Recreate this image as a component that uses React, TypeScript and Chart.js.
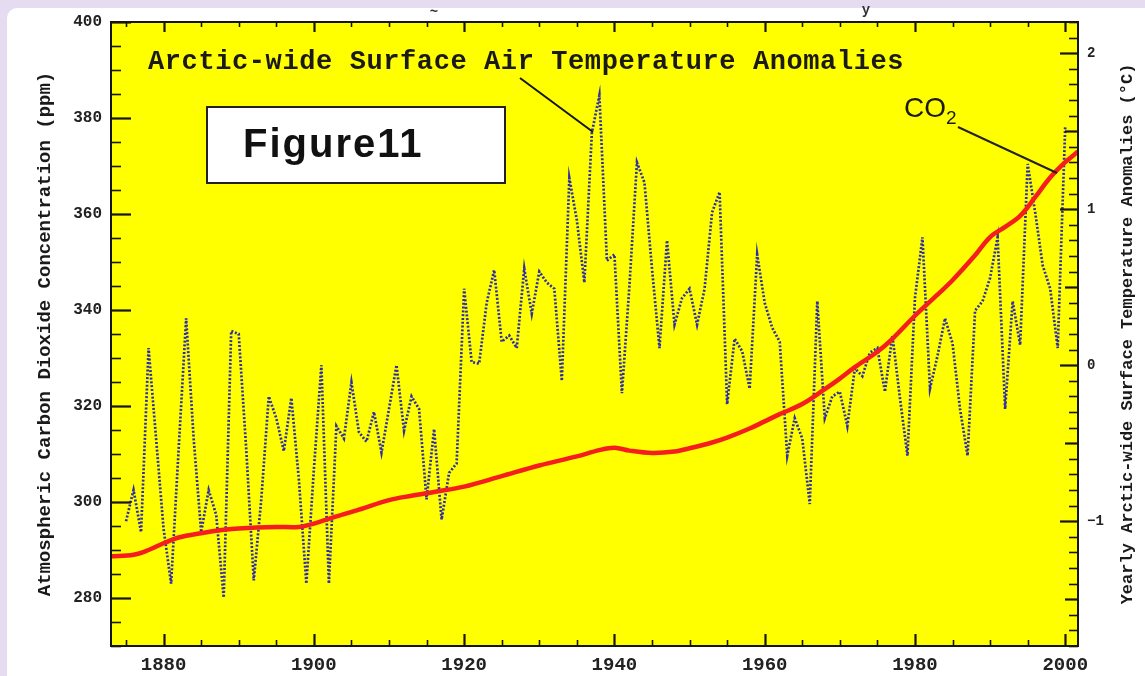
import React, { useEffect, useRef } from "react";
import { Chart, registerables } from "chart.js";

Chart.register(...registerables);

// ---------- data ----------
const X_MIN = 1873;
const X_MAX = 2001.7;
const CO2_MIN = 270;
const CO2_MAX = 400;
const TEMP_MIN = -1.8;
const TEMP_MAX = 2.2;

const xTickLabels = [1880, 1900, 1920, 1940, 1960, 1980, 2000];
const co2TickLabels = [280, 300, 320, 340, 360, 380, 400];
const tempTickLabels = [-1, 0, 1, 2];

const co2Years = [
  1873, 1876, 1878, 1880, 1882, 1885, 1888, 1890, 1895, 1898, 1900, 1903, 1906,
  1910, 1913, 1916, 1920, 1925, 1930, 1935, 1938, 1940, 1942, 1945, 1948, 1950,
  1953, 1955, 1958, 1960, 1962, 1965, 1968, 1970, 1972, 1975, 1977, 1980, 1983,
  1985, 1988, 1990, 1992, 1994, 1996, 1998, 2000, 2001.7,
];
const co2Values = [
  288.7, 289.0, 290.0, 291.4, 292.6, 293.5, 294.2, 294.5, 294.8, 294.8, 295.5,
  297.0, 298.4, 300.4, 301.3, 302.1, 303.2, 305.4, 307.6, 309.5, 310.8, 311.3,
  310.7, 310.2, 310.5, 311.2, 312.4, 313.4, 315.3, 316.8, 318.3, 320.4, 323.5,
  325.7, 328.1, 331.3, 334.0, 338.8, 343.2, 346.2, 351.4, 355.2, 357.3, 359.6,
  363.5, 367.6, 370.8, 373.0,
];

const TEMP_FIRST_YEAR = 1875;
const tempValues = [
  -1.0, -0.8, -1.07, 0.11, -0.47, -1.05, -1.4, -0.54, 0.3, -0.47, // 1875-1884
  -1.07, -0.8, -0.96, -1.49, 0.22, 0.2, -0.54, -1.38, -0.86, -0.2, // 1885-1894
  -0.34, -0.55, -0.21, -0.73, -1.4, -0.67, 0.0, -1.4, -0.39, -0.47, // 1895-1904
  -0.11, -0.43, -0.49, -0.3, -0.56, -0.28, 0.0, -0.42, -0.2, -0.28, // 1905-1914
  -0.86, -0.41, -0.99, -0.69, -0.63, 0.49, 0.02, 0.01, 0.4, 0.61, // 1915-1924
  0.15, 0.19, 0.11, 0.62, 0.33, 0.6, 0.53, 0.49, -0.1, 1.2, // 1925-1934
  0.93, 0.53, 1.49, 1.73, 0.67, 0.71, -0.18, 0.51, 1.3, 1.17, // 1935-1944
  0.62, 0.11, 0.8, 0.26, 0.43, 0.49, 0.26, 0.49, 0.98, 1.11, // 1945-1954
  -0.25, 0.17, 0.09, -0.15, 0.71, 0.4, 0.24, 0.15, -0.58, -0.34, // 1955-1964
  -0.47, -0.89, 0.41, -0.34, -0.2, -0.17, -0.39, -0.02, -0.07, 0.08, // 1965-1974
  0.11, -0.17, 0.19, -0.21, -0.58, 0.43, 0.82, -0.15, 0.06, 0.3, // 1975-1984
  0.14, -0.28, -0.58, 0.35, 0.41, 0.56, 0.82, -0.28, 0.41, 0.13, // 1985-1994
  1.29, 0.98, 0.64, 0.49, 0.11, 1.53, // 1995-2000
];

const plotTitle = "Arctic-wide Surface Air Temperature Anomalies";
const leftTitle = "Atmospheric Carbon Dioxide Concentration (ppm)";
const rightTitle = "Yearly Arctic-wide Surface Temperature Anomalies (°C)";
const figureLabel = "Figure11";

// ---------- drawing helpers ----------
const MONO = '"Liberation Mono", "DejaVu Sans Mono", monospace';
const INK = "#222222";

function seg(ctx: CanvasRenderingContext2D, x1: number, y1: number, x2: number, y2: number) {
  ctx.beginPath();
  ctx.moveTo(x1, y1);
  ctx.lineTo(x2, y2);
  ctx.stroke();
}

function fixedTicks(values: number[]) {
  return (s: any) => {
    s.ticks = values.map((v) => ({ value: v }));
  };
}

const decorPlugin = {
  id: "decor",
  beforeDraw(chart: any) {
    const { ctx, chartArea } = chart;
    const { left, top, right, bottom } = chartArea;
    ctx.save();
    ctx.fillStyle = "#ffff00";
    ctx.fillRect(left, top, right - left, bottom - top);
    // fragments of the cropped heading above the frame
    ctx.fillStyle = "#333";
    ctx.font = `bold 14px ${MONO}`;
    ctx.textAlign = "center";
    ctx.textBaseline = "middle";
    ctx.fillText("~", 434, 12);
    ctx.fillText("y", 866, 10);
    ctx.restore();
  },
  afterDatasetsDraw(chart: any) {
    const { ctx, chartArea, scales } = chart;
    const { left, top, right, bottom } = chartArea;
    const xs = scales.x;
    const ys = scales.y;
    const y2 = scales.y2;
    ctx.save();
    ctx.strokeStyle = "#151515";
    ctx.lineCap = "butt";

    // left axis ticks (inward)
    for (let v = CO2_MIN; v <= CO2_MAX; v += 5) {
      const p = Math.round(ys.getPixelForValue(v)) + 0.5;
      const major = v % 20 === 0;
      ctx.lineWidth = major ? 2.2 : 1.6;
      seg(ctx, left, p, left + (major ? 20 : 10), p);
    }
    // right axis ticks (inward)
    for (let k = Math.round(TEMP_MIN * 10); k <= Math.round(TEMP_MAX * 10); k++) {
      const p = Math.round(y2.getPixelForValue(k / 10)) + 0.5;
      const len = k % 10 === 0 ? 18 : k % 5 === 0 ? 13 : 9;
      ctx.lineWidth = k % 5 === 0 ? 2.2 : 1.6;
      seg(ctx, right, p, right - len, p);
    }
    // bottom / top ticks
    for (let yr = 1875; yr <= 2000; yr += 5) {
      const p = Math.round(xs.getPixelForValue(yr)) + 0.5;
      const major = yr % 20 === 0;
      ctx.lineWidth = major ? 2.2 : 1.6;
      seg(ctx, p, bottom, p, bottom - (major ? 12 : 6));
      seg(ctx, p, top, p, top + (major ? 10 : 5));
    }
    // frame
    ctx.lineWidth = 2;
    ctx.strokeRect(left, top, right - left, bottom - top);

    // in-plot title + leader
    ctx.fillStyle = "#1a1a1a";
    ctx.font = `bold 27px ${MONO}`;
    (ctx as any).letterSpacing = "0.6px";
    ctx.textBaseline = "middle";
    ctx.textAlign = "left";
    ctx.fillText(plotTitle, 148, 62);
    (ctx as any).letterSpacing = "0px";
    ctx.lineWidth = 2;
    seg(ctx, 520, 78, 593, 132);

    // Figure box
    ctx.fillStyle = "#ffffff";
    ctx.fillRect(207, 107, 298, 76);
    ctx.strokeStyle = "#222";
    ctx.lineWidth = 2;
    ctx.strokeRect(207, 107, 298, 76);
    ctx.fillStyle = "#111";
    ctx.font = 'bold 40px "Liberation Sans", Arial, sans-serif';
    (ctx as any).letterSpacing = "2px";
    ctx.textAlign = "left";
    ctx.fillText(figureLabel, 243, 146);
    (ctx as any).letterSpacing = "0px";

    // CO2 label + leader
    ctx.fillStyle = "#1a1a1a";
    ctx.font = '28px "Liberation Sans", Arial, sans-serif';
    ctx.fillText("CO", 904, 109);
    ctx.font = '19px "Liberation Sans", Arial, sans-serif';
    ctx.fillText("2", 946, 119);
    ctx.strokeStyle = "#222";
    ctx.lineWidth = 2;
    seg(ctx, 958, 127, 1057, 173);

    // right axis title (reads bottom to top)
    ctx.fillStyle = "#1a1a1a";
    ctx.font = `bold 17px ${MONO}`;
    ctx.translate(1128, 334);
    ctx.rotate(-Math.PI / 2);
    ctx.textAlign = "center";
    ctx.textBaseline = "middle";
    ctx.fillText(rightTitle, 0, 0);
    ctx.restore();
  },
};

export default function App() {
  const ref = useRef<HTMLCanvasElement | null>(null);

  useEffect(() => {
    const canvas = ref.current;
    if (!canvas) return;
    const tempPoints = tempValues.map((v, i) => ({ x: TEMP_FIRST_YEAR + i, y: v }));
    const co2Points = co2Years.map((yr, i) => ({ x: yr, y: co2Values[i] }));

    const chart = new Chart(canvas, {
      type: "line",
      data: {
        datasets: [
          {
            label: "CO2",
            data: co2Points,
            yAxisID: "y",
            borderColor: "#f51d1d",
            borderWidth: 4.5,
            pointRadius: 0,
            tension: 0.35,
            fill: false,
          },
          {
            label: "Temperature",
            data: tempPoints,
            yAxisID: "y2",
            borderColor: "#2e2ea6",
            borderWidth: 2.7,
            borderDash: [2, 1.8],
            pointRadius: 0,
            tension: 0,
            fill: false,
          },
        ],
      },
      options: {
        responsive: false,
        animation: false,
        devicePixelRatio: 1,
        layout: { padding: { top: 22, left: 0, right: 0, bottom: 0 } },
        plugins: {
          legend: { display: false },
          tooltip: { enabled: false },
        },
        scales: {
          x: {
            type: "linear",
            position: "bottom",
            min: X_MIN,
            max: X_MAX,
            afterBuildTicks: fixedTicks(xTickLabels),
            afterFit: (s: any) => {
              s.height = 30;
            },
            grid: { display: false, drawTicks: false },
            border: { display: false },
            ticks: {
              autoSkip: false,
              maxRotation: 0,
              padding: 8,
              color: INK,
              font: { family: MONO, size: 19, weight: "bold" },
              callback: (v: any) => String(v),
            },
          },
          y: {
            type: "linear",
            position: "left",
            min: CO2_MIN,
            max: CO2_MAX,
            afterBuildTicks: fixedTicks(co2TickLabels),
            afterFit: (s: any) => {
              s.width = 111;
            },
            grid: { display: false, drawTicks: false },
            border: { display: false },
            ticks: {
              autoSkip: false,
              padding: 9,
              color: INK,
              font: { family: MONO, size: 16, weight: "bold" },
              callback: (v: any) => String(v),
            },
            title: {
              display: true,
              text: leftTitle,
              color: "#1a1a1a",
              font: { family: MONO, size: 19, weight: "bold", lineHeight: 1.2 },
              padding: { top: 34, bottom: 0 },
            },
          },
          y2: {
            type: "linear",
            position: "right",
            min: TEMP_MIN,
            max: TEMP_MAX,
            afterBuildTicks: fixedTicks(tempTickLabels),
            afterFit: (s: any) => {
              s.width = 67;
            },
            grid: { display: false, drawTicks: false },
            border: { display: false },
            ticks: {
              autoSkip: false,
              padding: 9,
              color: INK,
              font: { family: MONO, size: 14, weight: "bold" },
              callback: (v: any) => (v < 0 ? "\u2212" + String(-v) : String(v)),
            },
          },
        },
      },
      plugins: [decorPlugin],
    });
    return () => chart.destroy();
  }, []);

  return (
    <div
      style={{
        position: "fixed",
        left: 0,
        top: 0,
        width: 1145,
        height: 676,
        background: "#e6dcf2",
        overflow: "hidden",
      }}
    >
      <div
        style={{
          position: "absolute",
          left: 7,
          top: 8,
          right: 0,
          bottom: 0,
          background: "#ffffff",
          borderTopLeftRadius: 10,
        }}
      />
      <canvas
        ref={ref}
        width={1145}
        height={676}
        style={{ position: "absolute", left: 0, top: 0, width: 1145, height: 676 }}
      />
    </div>
  );
}
